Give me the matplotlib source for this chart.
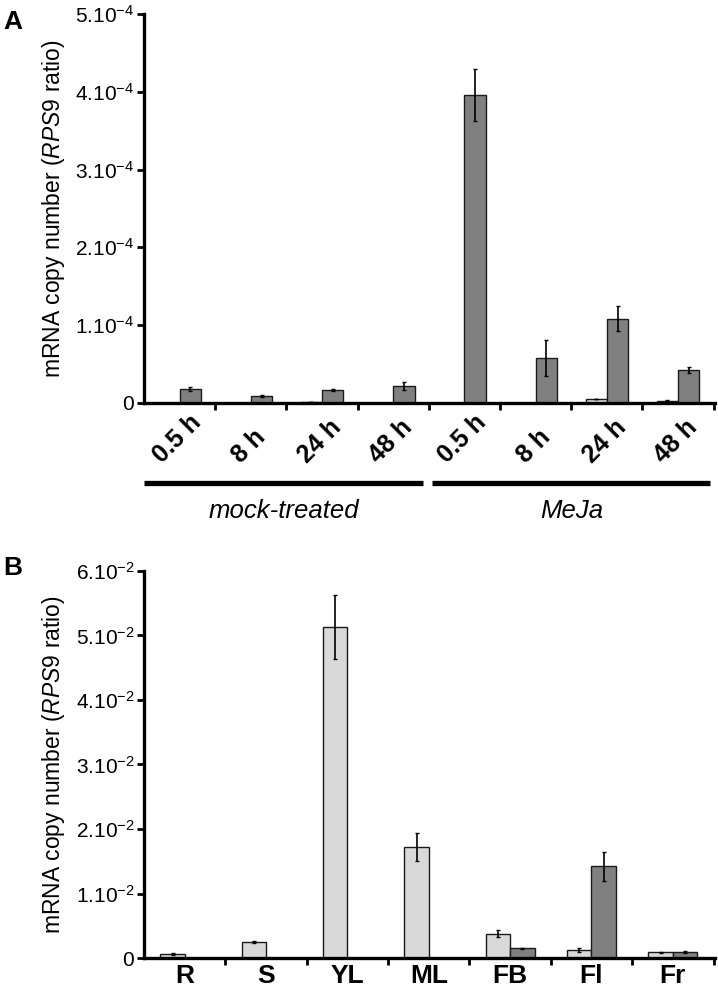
import numpy as np
import matplotlib
matplotlib.use("Agg")
import matplotlib.pyplot as plt
import matplotlib.transforms as mtransforms

plt.rcParams['font.family'] = ['Liberation Sans', 'DejaVu Sans']
plt.rcParams['mathtext.fontset'] = 'custom'
plt.rcParams['mathtext.rm'] = 'Liberation Sans'
plt.rcParams['mathtext.it'] = 'Liberation Sans:italic'
plt.rcParams['mathtext.bf'] = 'Liberation Sans:bold'

# Panel A: time course, mock vs MeJa (values in units of 1e-4)
a_labels = ['0.5 h', '8 h', '24 h', '48 h', '0.5 h', '8 h', '24 h', '48 h']
a_light = [0.005, 0.005, 0.01, 0.005, 0.005, 0.005, 0.05, 0.03]
a_light_err = [0.0, 0.0, 0.0, 0.0, 0.0, 0.0, 0.005, 0.005]
a_dark = [0.18, 0.09, 0.17, 0.22, 3.96, 0.58, 1.08, 0.42]
a_dark_err = [0.03, 0.015, 0.01, 0.05, 0.33, 0.23, 0.16, 0.04]
a_groups = ['mock-treated', 'MeJa']

# Panel B: organs (values in units of 1e-2)
b_labels = ['R', 'S', 'YL', 'ML', 'FB', 'Fl', 'Fr']
b_light = [0.06, 0.25, 5.13, 1.72, 0.38, 0.12, 0.09]
b_light_err = [0.02, 0.02, 0.5, 0.22, 0.05, 0.03, 0.01]
b_dark = [0.005, 0.005, 0.005, 0.005, 0.15, 1.42, 0.09]
b_dark_err = [0.0, 0.0, 0.0, 0.0, 0.01, 0.22, 0.015]

LIGHT = '#d9d9d9'
DARK = '#808080'
EDGE = '#1a1a1a'

fig = plt.figure(figsize=(7.18, 9.94), dpi=100)
axA = fig.add_axes([0.2006, 0.5946, 0.7954, 0.3914])
axB = fig.add_axes([0.2006, 0.0362, 0.7954, 0.3894])


def draw(ax, light, light_err, dark, dark_err, scale, exp, ymax):
    n = len(light)
    x = np.arange(n) + 0.5
    w = 0.3
    ek = dict(ecolor='black', elinewidth=1.2, capsize=1.2, capthick=1)
    ax.bar(x - w / 2, np.array(light) * scale, w, yerr=np.array(light_err) * scale,
           color=LIGHT, edgecolor=EDGE, linewidth=1.0, error_kw=ek)
    ax.bar(x + w / 2, np.array(dark) * scale, w, yerr=np.array(dark_err) * scale,
           color=DARK, edgecolor=EDGE, linewidth=1.0, error_kw=ek)
    ax.set_xlim(0, n + 0.02)
    ax.set_ylim(0, ymax * scale)
    for s in ['top', 'right']:
        ax.spines[s].set_visible(False)
    for s in ['left', 'bottom']:
        ax.spines[s].set_linewidth(2.4)
    ax.set_xticks(np.arange(1, n + 1))
    ax.set_xticklabels([])
    ax.tick_params(axis='x', which='major', direction='out', length=5, width=2)
    ticks = np.arange(0, ymax + 1)
    ax.set_yticks(ticks * scale)
    ax.set_yticklabels(['0'] + [r'%d.10$^{%d}$' % (t, exp) for t in ticks[1:]], fontsize=15)
    ax.tick_params(axis='y', direction='out', length=5, width=2, pad=2)
    ax.set_ylabel(r'mRNA copy number ($\it{RPS9}$ ratio)', fontsize=16.5, labelpad=6)
    return x


xa = draw(axA, a_light, a_light_err, a_dark, a_dark_err, 1e-4, -4, 5)
trans = mtransforms.blended_transform_factory(axA.transData, axA.transAxes)
for xi, lab in zip(xa, a_labels):
    axA.text(xi - 0.03, -0.167, lab, transform=trans, rotation=45, ha='center', va='bottom',
             fontsize=18, fontweight='bold')

spans = [(0.0, 3.92), (4.05, 7.95)]
for (x0, x1), name in zip(spans, a_groups):
    axA.plot([x0, x1], [-0.206, -0.206], color='black', lw=3.8, transform=trans,
             clip_on=False, solid_capstyle='butt')
    axA.text((x0 + x1) / 2, -0.278, name, transform=trans, ha='center', va='center',
             fontsize=18.5, fontstyle='italic')

xb = draw(axB, b_light, b_light_err, b_dark, b_dark_err, 1e-2, -2, 6)
axB.set_xticks(xb, minor=True)
axB.set_xticklabels(b_labels, minor=True, fontsize=19, fontweight='bold')
axB.tick_params(axis='x', which='minor', length=0, pad=4)

fig.text(0.005, 0.99, 'A', fontsize=19, fontweight='bold', va='top')
fig.text(0.005, 0.441, 'B', fontsize=19, fontweight='bold', va='top')

fig.savefig('out.png', dpi=100)
